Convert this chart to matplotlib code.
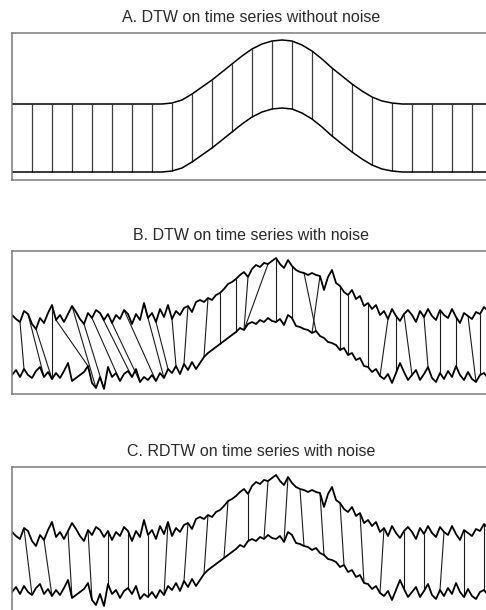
import numpy as np
import matplotlib.pyplot as plt

plt.rcParams['font.family'] = ['Liberation Sans', 'DejaVu Sans']

# --- panel A: clean series, sampled every 10 px along x ---
clean_x0, clean_step = 12, 10
clean_top = [76, 76, 76, 76, 76, 76, 76, 76, 76, 76, 76, 76, 76, 76, 76, 76,
             77, 80, 86, 93, 100, 108, 116, 124, 131, 136, 139, 140, 139, 135,
             129, 121, 112, 104, 96, 89, 83, 79, 77,
             76, 76, 76, 76, 76, 76, 76, 76, 76, 76, 76]
clean_bottom = [8, 8, 8, 8, 8, 8, 8, 8, 8, 8, 8, 8, 8, 8, 8, 8,
                9, 12, 18, 25, 32, 40, 48, 56, 63, 68, 71, 72, 71, 67,
                61, 53, 44, 36, 28, 21, 15, 11, 9,
                8, 8, 8, 8, 8, 8, 8, 8, 8, 8, 8]
clean_links = [2, 4, 6, 8, 10, 12, 14, 16, 18, 20, 22, 24, 26, 28, 30, 32,
               34, 36, 38, 40, 42, 44, 46]

# --- panels B and C: noisy series, sampled every 4 px along x ---
noisy_x0, noisy_step = 12, 4
noisy_top = [79, 75, 72, 83, 80, 70, 65, 76, 71, 81, 89, 74, 79, 72, 80, 88,
             82, 75, 70, 81, 76, 84, 81, 74, 80, 71, 79, 75, 84, 80, 70, 80,
             74, 91, 76, 81, 72, 85, 77, 89, 75, 83, 79, 86, 88, 82, 92, 94,
             92, 96, 94, 99, 101, 105, 110, 112, 115, 119, 122, 117, 125, 129,
             127, 131, 130, 133, 136, 130, 126, 134, 128, 124, 122, 121, 119, 121,
             119, 118, 104, 117, 124, 111, 108, 102, 99, 104, 95, 98, 88, 91,
             85, 89, 79, 83, 75, 85, 78, 73, 80, 84, 79, 72, 83, 77, 85, 78,
             74, 84, 79, 76, 85, 77, 71, 81, 78, 75, 82, 80, 87, 83]
noisy_bottom = [19, 24, 17, 25, 19, 16, 23, 27, 17, 22, 15, 21, 16, 23, 31, 13,
                16, 19, 22, 28, 11, 6, 17, 5, 27, 17, 21, 13, 20, 23, 17, 25,
                12, 17, 14, 19, 13, 21, 16, 25, 21, 28, 20, 30, 24, 32, 25, 31,
                37, 41, 44, 47, 50, 53, 56, 59, 62, 66, 64, 70, 72, 70, 74, 72,
                76, 73, 72, 75, 69, 79, 76, 68, 67, 65, 64, 61, 63, 58, 56, 52,
                51, 49, 44, 46, 39, 41, 34, 36, 28, 27, 22, 25, 18, 15, 20, 11,
                21, 31, 22, 14, 19, 24, 14, 20, 27, 16, 12, 21, 15, 23, 17, 28,
                19, 14, 22, 15, 12, 19, 21, 16]

# warping paths as (index on top series, index on bottom series)
dtw_top = [2, 4, 6, 10, 11, 15, 18, 20, 22, 25, 28, 33, 36, 40, 44, 49, 52,
           56, 59, 64, 66, 70, 73, 77, 82, 84, 89, 94, 96, 98, 103, 107, 111,
           114, 117]
dtw_bottom = [3, 8, 10, 10, 19, 21, 23, 27, 30, 32, 36, 38, 39, 41, 43, 48, 52,
              56, 58, 58, 66, 70, 76, 75, 82, 84, 89, 92, 96, 100, 104, 107, 111,
              116, 117]
rdtw_top = [3, 8, 14, 19, 24, 29, 34, 39, 44, 49, 54, 59, 64, 69, 72, 77, 82,
            87, 93, 98, 103, 108, 113, 118]
rdtw_bottom = [5, 10, 15, 20, 24, 29, 34, 38, 43, 48, 53, 59, 63, 68, 73, 78, 83,
               88, 92, 98, 103, 107, 113, 118]

titles = ["A. DTW on time series without noise",
          "B. DTW on time series with noise",
          "C. RDTW on time series with noise"]

W, H = 486, 610
fig = plt.figure(figsize=(W / 100, H / 100), dpi=100)


def add_panel(top_px, bottom_px):
    # axes placed in pixel terms; the right edge runs just past the canvas
    ax = fig.add_axes([12 / W, (H - bottom_px) / H, 480 / W, (bottom_px - top_px) / H])
    ax.set_xlim(12, 492)
    ax.set_ylim(0, bottom_px - top_px)
    ax.set_xticks([])
    ax.set_yticks([])
    for s in ax.spines.values():
        s.set_color('#7a7a7a')
        s.set_linewidth(1.1)
    return ax


def draw_pair(ax, x, top, bottom, links_top, links_bottom, link_color, link_lw, lw):
    for i, j in zip(links_top, links_bottom):
        ax.plot([x[i], x[j]], [top[i], bottom[j]], color=link_color, lw=link_lw,
                solid_capstyle='butt')
    ax.plot(x, top, color='black', lw=lw)
    ax.plot(x, bottom, color='black', lw=lw)


# panel A
ax_a = add_panel(33, 180)
xa = clean_x0 + clean_step * np.arange(len(clean_top))
draw_pair(ax_a, xa, clean_top, clean_bottom, clean_links, clean_links,
          '#3a3a3a', 0.9, 1.1)

# panels B and C share the same noisy series
xn = noisy_x0 + noisy_step * np.arange(len(noisy_top))
ax_b = add_panel(251, 394)
draw_pair(ax_b, xn, noisy_top, noisy_bottom, dtw_top, dtw_bottom, '#1a1a1a', 0.8, 1.3)

ax_c = add_panel(467, 611)
draw_pair(ax_c, xn, noisy_top, noisy_bottom, rdtw_top, rdtw_bottom, '#1a1a1a', 0.8, 1.3)

for title, y in zip(titles, [17, 235, 452]):
    fig.text(251 / W, 1 - y / H, title, ha='center', va='center',
             fontsize=11.5, color='#2a2a2a')

fig.savefig('out.png', dpi=100)
